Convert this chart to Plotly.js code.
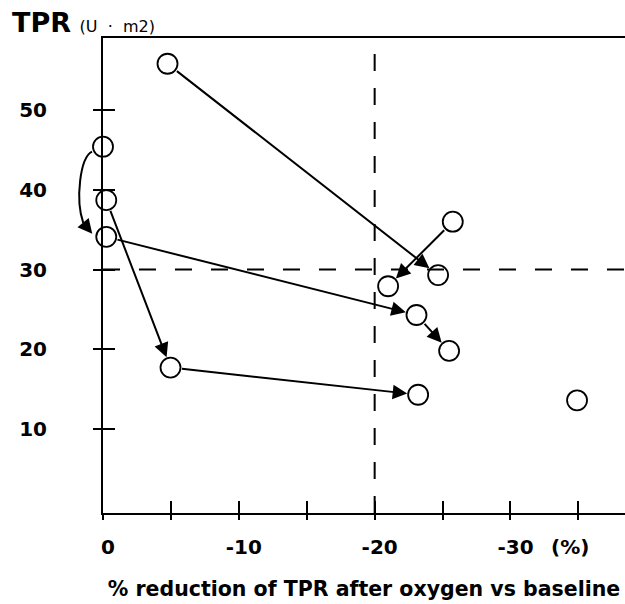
<!DOCTYPE html>
<html>
<head>
<meta charset="utf-8">
<script src="https://cdn.plot.ly/plotly-3.0.1.min.js"></script>
<style>
  html, body { margin: 0; padding: 0; background: #fff; }
  #chart { width: 625px; height: 604px; }
</style>
</head>
<body>
<div id="chart"></div>
<script>
// Patient measurements: % reduction of TPR after oxygen (x) and TPR in U·m2 (y)
const pointX = [-4.75, 0.0, -0.24, -0.24, -4.97, -25.75, -24.67, -20.99, -23.08, -25.48, -23.2, -34.9];
const pointY = [55.8, 45.4, 38.7, 34.1, 17.7, 36.0, 29.3, 27.9, 24.3, 19.8, 14.3, 13.6];

// Straight arrows: index of start point -> index of end point
const arrowFrom = [0, 5, 2, 3, 8, 4];
const arrowTo   = [6, 7, 4, 8, 9, 10];

// Curved arrow (drawn beside the y axis)
const curveFrom = 1;
const curveTo = 3;

// Reference thresholds (dashed lines)
const thresholdX = [-20];
const thresholdY = [30];

// Axis ticks and labels
const xTickVals = [0, -5, -10, -15, -20, -25, -30, -35];
const xTickText = ['0', '', '-10', '', '-20', '', '-30', ''];
const yTickVals = [10, 20, 30, 40, 50];
const yTickText = ['10', '20', '30', '40', '50'];

const X_RANGE = [0, -38.43];
const Y_RANGE = [-0.53, 59.03];

const W = 625, H = 604;
const M = { l: 103, r: 0, t: 38, b: 91 };
const plotW = W - M.l - M.r;
const plotH = H - M.t - M.b;

const FONT = 'DejaVu Sans, Liberation Sans, Arial, sans-serif';
const INK = '#000';

// data value + pixel nudge -> paper coordinate
function paperX(v, dpx) { return (v - X_RANGE[0]) / (X_RANGE[1] - X_RANGE[0]) + dpx / plotW; }
function paperY(v, dpx) { return (v - Y_RANGE[0]) / (Y_RANGE[1] - Y_RANGE[0]) - dpx / plotH; }

const traces = [
  {
    type: 'scatter', mode: 'markers',
    x: pointX, y: pointY,
    cliponaxis: false,
    marker: { symbol: 'circle-open', size: 20, color: INK, line: { width: 1.8, color: INK } },
    hoverinfo: 'skip', showlegend: false
  },
  {
    // carrier trace for the inner tick axes
    type: 'scatter', mode: 'markers', x: [], y: [],
    xaxis: 'x2', yaxis: 'y2', hoverinfo: 'skip', showlegend: false
  }
];

const annotations = arrowFrom.map((f, i) => ({
  x: pointX[arrowTo[i]], y: pointY[arrowTo[i]],
  ax: pointX[f], ay: pointY[f],
  xref: 'x', yref: 'y', axref: 'x', ayref: 'y',
  text: '', showarrow: true,
  arrowhead: 2, arrowsize: 1.45, arrowwidth: 2, arrowcolor: INK,
  standoff: 11, startstandoff: 10
}));

// head of the curved arrow
annotations.push({
  x: pointX[curveTo], y: pointY[curveTo], xref: 'x', yref: 'y',
  xshift: -14, yshift: 3,
  ax: -9, ay: -11,
  text: '', showarrow: true,
  arrowhead: 2, arrowsize: 1.45, arrowwidth: 2, arrowcolor: INK, standoff: 0
});

// unit label after the last tick
annotations.push({
  x: -34.4, y: 0, xref: 'x', yref: 'paper',
  yshift: -34, yanchor: 'middle', xanchor: 'center',
  text: '(%)', showarrow: false,
  font: { family: FONT, size: 20, color: INK, weight: 'bold' }
});

const x1 = pointX[curveFrom], y1 = pointY[curveFrom];
const x3 = pointX[curveTo], y3 = pointY[curveTo];
const curvePath =
  'M ' + paperX(x1, -11) + ',' + paperY(y1, 5) +
  ' C ' + paperX(x1, -23) + ',' + paperY(y1, 11) +
  ' ' + paperX(x3, -31) + ',' + paperY(y3, -37) +
  ' ' + paperX(x3, -23) + ',' + paperY(y3, -14);

const shapes = [];
thresholdX.forEach(v => shapes.push({
  type: 'line', xref: 'x', yref: 'paper', x0: v, x1: v, y0: 0, y1: 1,
  line: { color: INK, width: 2, dash: '17px,17px' }, layer: 'below'
}));
thresholdY.forEach(v => shapes.push({
  type: 'line', xref: 'paper', yref: 'y', x0: 0, x1: 1, y0: v, y1: v,
  line: { color: INK, width: 2, dash: '17px,19px' }, layer: 'below'
}));
shapes.push({
  type: 'path', xref: 'paper', yref: 'paper', path: curvePath,
  line: { color: INK, width: 2 }, fillcolor: 'rgba(0,0,0,0)'
});

const tickFont = { family: FONT, size: 20, color: INK, weight: 'bold' };

const layout = {
  width: W, height: H,
  margin: M,
  paper_bgcolor: '#fff', plot_bgcolor: '#fff',
  showlegend: false,
  font: { family: FONT, color: INK },
  title: {
    text: '<b>TPR</b> <span style="font-size:16px">(U&nbsp; ·&nbsp; m2)</span>',
    xref: 'container', yref: 'container',
    x: 12 / W, xanchor: 'left',
    y: 1 - 23 / H, yanchor: 'middle',
    font: { family: FONT, size: 27, color: INK }
  },
  xaxis: {
    range: X_RANGE, fixedrange: true,
    showgrid: false, zeroline: false,
    showline: true, linecolor: INK, linewidth: 2, mirror: true,
    ticks: 'outside', ticklen: 5, tickwidth: 2, tickcolor: INK,
    tickmode: 'array', tickvals: xTickVals, ticktext: xTickText,
    tickfont: tickFont, ticklabelstandoff: 10, ticklabelshift: -5,
    automargin: false,
    title: {
      text: '% reduction of TPR after oxygen vs baseline',
      font: { family: FONT, size: 20.5, color: INK, weight: 'bold' }
    }
  },
  yaxis: {
    range: Y_RANGE, fixedrange: true,
    showgrid: false, zeroline: false,
    showline: true, linecolor: INK, linewidth: 2,
    ticks: 'outside', ticklen: 8, tickwidth: 2, tickcolor: INK,
    tickmode: 'array', tickvals: yTickVals, ticktext: yTickText,
    tickfont: tickFont, ticklabelstandoff: 42
  },
  xaxis2: {
    overlaying: 'x', anchor: 'y2', side: 'bottom',
    range: X_RANGE, fixedrange: true,
    showgrid: false, zeroline: false, showline: false,
    ticks: 'inside', ticklen: 12, tickwidth: 2, tickcolor: INK,
    tickmode: 'array', tickvals: xTickVals, showticklabels: false
  },
  yaxis2: {
    overlaying: 'y', anchor: 'x2', side: 'left',
    range: Y_RANGE, fixedrange: true,
    showgrid: false, zeroline: false, showline: false,
    ticks: 'inside', ticklen: 12, tickwidth: 2, tickcolor: INK,
    tickmode: 'array', tickvals: yTickVals, showticklabels: false
  },
  shapes: shapes,
  annotations: annotations
};

Plotly.newPlot('chart', traces, layout, { staticPlot: true, displayModeBar: false }).then(gd => {
  // push the x-axis title down below the tick labels
  const t = gd.querySelector('.g-xtitle text');
  if (t) {
    const y = parseFloat(t.getAttribute('y'));
    t.setAttribute('y', y + 10);
  }
});
</script>
</body>
</html>
